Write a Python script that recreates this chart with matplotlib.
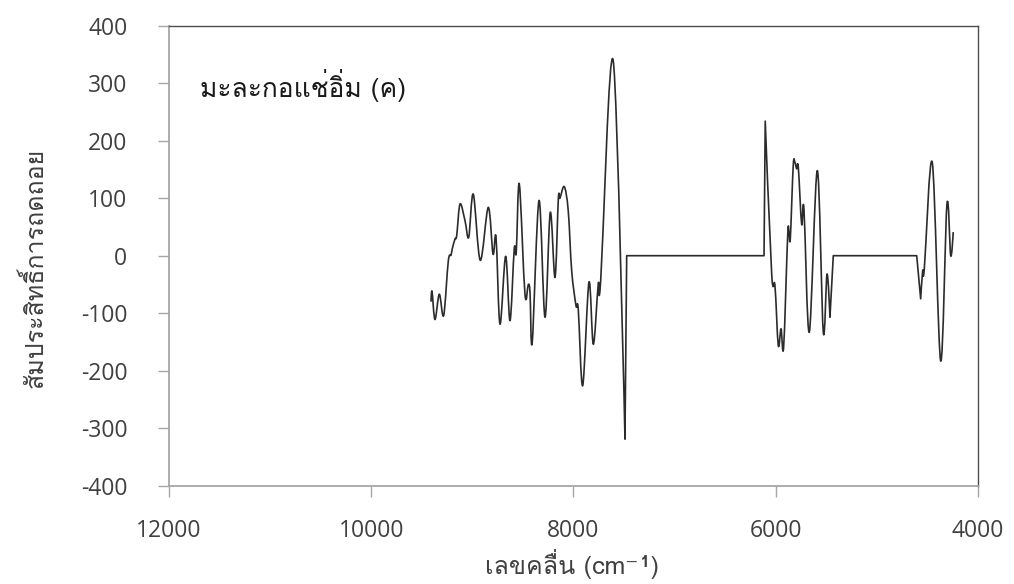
import matplotlib
matplotlib.use("Agg")
import matplotlib.pyplot as plt
from matplotlib.path import Path
from matplotlib.patches import PathPatch
from matplotlib import font_manager
from matplotlib.ft2font import FT2Font

# Regression coefficients of the PLS model over the NIR spectrum
wavenumber = [9409, 9399, 9370, 9327, 9284, 9238, 9211, 9199, 9172, 9155,
              9122, 9073, 9036, 8991, 8922, 8843, 8796, 8766, 8727, 8671,
              8628, 8586, 8566, 8536, 8480, 8447, 8430, 8408, 8341, 8282,
              8230, 8183, 8150, 8134, 8091, 8052, 8018, 7975, 7953, 7909,
              7847, 7804, 7755, 7731, 7607, 7491, 7474, 6116, 6104, 6040,
              6008, 5975, 5948, 5922, 5882, 5869, 5856, 5827, 5810, 5793,
              5777, 5744, 5721, 5668, 5589, 5530, 5493, 5464, 5431, 4606,
              4567, 4547, 4531, 4452, 4369, 4307, 4270, 4245]
coefficient = [-80, -62, -111, -67, -104, -9, 1, 12, 29, 35,
               90, 61, 32, 107, -8, 84, 3, 32, -119, -1,
               -113, 12, 6, 125, -67, -50, -64, -151, 96, -107,
               75, -38, 99, 100, 120, 78, -26, -87, -93, -226,
               -46, -154, -49, -43, 339, -319, 0, 0, 234, -32,
               -52, -156, -127, -159, 35, 41, 30, 157, 162, 151,
               154, 55, 81, -133, 148, -133, -32, -107, 0, 0,
               -75, -26, -23, 162, -183, 90, 0, 41]

x_ticks = [12000, 10000, 8000, 6000, 4000]
y_ticks = [-400, -300, -200, -100, 0, 100, 200, 300, 400]

title_text = "มะละกอแช่อิ่ม (ค)"
x_label = "เลขคลื่น (cm⁻¹)"
y_label = "สัมประสิทธิ์การถดถอย"


def thai_family():
    preferred, others = [], []
    for entry in font_manager.fontManager.ttflist:
        try:
            cmap = FT2Font(entry.fname).get_charmap()
        except Exception:
            continue
        if 0x0E21 in cmap and 0x0E2D in cmap:
            (preferred if "Sans" in entry.name or "Loma" in entry.name
             else others).append(entry.name)
    names = preferred + others
    return names[0] if names else None


thai = thai_family()
thai_fonts = ([thai] if thai else []) + ["DejaVu Sans"]

fig = plt.figure(figsize=(10.14, 5.84), dpi=100)
ax = fig.add_axes([169 / 1014, 1 - 485.7 / 584, (978 - 169) / 1014, (485.7 - 25.7) / 584])

# Smoothed line: Catmull-Rom segments written as cubic Beziers,
# kept straight where the curve runs along the zero baseline.
n = len(wavenumber)
flat = [False] * n
for i in range(n):
    if coefficient[i] == 0:
        if (i > 0 and coefficient[i - 1] == 0) or (i < n - 1 and coefficient[i + 1] == 0):
            flat[i] = True
sharp = list(flat)
for i in range(n):
    if flat[i]:
        if i > 0:
            sharp[i - 1] = True
        if i < n - 1:
            sharp[i + 1] = True

tangent = []
for i in range(n):
    if sharp[i] or i == 0 or i == n - 1:
        tangent.append((0.0, 0.0))
    else:
        tangent.append(((wavenumber[i + 1] - wavenumber[i - 1]) / 6.0,
                        (coefficient[i + 1] - coefficient[i - 1]) / 6.0))

verts = [(wavenumber[0], coefficient[0])]
codes = [Path.MOVETO]
for i in range(n - 1):
    if flat[i] and flat[i + 1]:
        verts.append((wavenumber[i + 1], coefficient[i + 1]))
        codes.append(Path.LINETO)
        continue
    c1 = (wavenumber[i] + tangent[i][0], coefficient[i] + tangent[i][1])
    c2 = (wavenumber[i + 1] - tangent[i + 1][0], coefficient[i + 1] - tangent[i + 1][1])
    verts += [c1, c2, (wavenumber[i + 1], coefficient[i + 1])]
    codes += [Path.CURVE4] * 3

ax.add_patch(PathPatch(Path(verts, codes), facecolor="none",
                       edgecolor="#2b2b2b", linewidth=1.2, joinstyle="round"))

ax.set_xlim(12000, 4000)
ax.set_ylim(-400, 400)
ax.set_xticks(x_ticks)
ax.set_yticks(y_ticks)
ax.set_xticklabels([str(v) for v in x_ticks], fontfamily="Open Sans", fontsize=16.5, color="#404040")
ax.set_yticklabels([str(v) for v in y_ticks], fontfamily="Open Sans", fontsize=16.5, color="#404040")
ax.tick_params(axis="both", direction="out", length=8, width=1.0, color="#a6a6a6")
ax.tick_params(axis="x", pad=16)
ax.tick_params(axis="y", pad=22)

for side in ("left", "bottom"):
    ax.spines[side].set_color("#a6a6a6")
    ax.spines[side].set_linewidth(1.3)
for side in ("top", "right"):
    ax.spines[side].set_color("#4d4d4d")
    ax.spines[side].set_linewidth(1.0)

ax.text(0.038, 0.87, title_text, transform=ax.transAxes, fontsize=19,
        family=thai_fonts, color="#1a1a1a", va="center", ha="left")
fig.text(572 / 1014, 1 - 564 / 584, x_label, fontsize=18, family=thai_fonts,
         color="#404040", ha="center", va="center")
fig.text(34 / 1014, 1 - 268 / 584, y_label, fontsize=18, family=thai_fonts,
         color="#404040", ha="center", va="center", rotation=90)

fig.savefig("out.png", dpi=100)
